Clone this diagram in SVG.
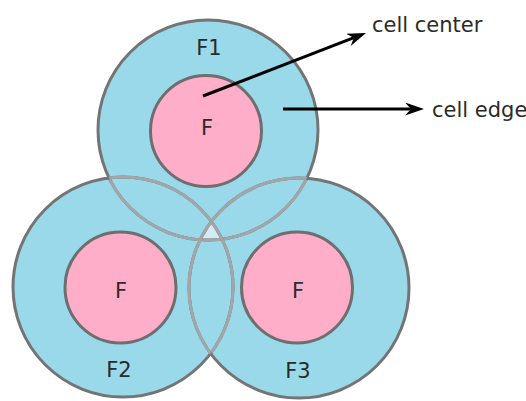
<svg xmlns="http://www.w3.org/2000/svg" width="526" height="401" viewBox="0 0 526 401">
  <style>
    .cell { fill: #99D9EA; stroke: none; }
    .outline { fill: none; stroke: #747474; stroke-width: 3; }
    .inner-arc { fill: none; stroke: #a3a6a8; stroke-width: 3; }
    .center { fill: #FFAEC9; stroke: #6e6e6e; stroke-width: 3; }
    .lbl { font-family: "DejaVu Sans", Verdana, sans-serif; font-size: 21px; fill: #2a2a2a; }
    .mid { text-anchor: middle; }
    .arrow { fill: none; stroke: #000; stroke-width: 3; }
  </style>
  <defs>
    <marker id="head" markerUnits="userSpaceOnUse" markerWidth="22" markerHeight="14" refX="6" refY="6.5" orient="auto">
      <path d="M0,0 L19,6.5 L0,13 L6,6.5 z" fill="#000"/>
    </marker>
    <clipPath id="notTop">
      <circle cx="123" cy="287" r="110"/>
      <circle cx="299" cy="288" r="110"/>
    </clipPath>
    <clipPath id="notLeft">
      <circle cx="208" cy="130" r="110"/>
      <circle cx="299" cy="288" r="110"/>
    </clipPath>
    <clipPath id="notRight">
      <circle cx="208" cy="130" r="110"/>
      <circle cx="123" cy="287" r="110"/>
    </clipPath>
    <clipPath id="inLeft"><circle cx="123" cy="287" r="110"/></clipPath>
    <clipPath id="inRight"><circle cx="299" cy="288" r="110"/></clipPath>
  </defs>

  <g id="cell-fills">
    <circle class="cell" cx="208" cy="130" r="110"/>
    <circle class="cell" cx="123" cy="287" r="110"/>
    <circle class="cell" cx="299" cy="288" r="110"/>
    <g clip-path="url(#inRight)">
      <circle cx="208" cy="130" r="110" fill="#d2ecf1" clip-path="url(#inLeft)"/>
    </g>
  </g>

  <g id="cell-F1">
    <circle class="outline" cx="208" cy="130" r="110"/>
    <circle class="inner-arc" cx="208" cy="130" r="110" clip-path="url(#notTop)"/>
    <circle class="center" cx="206" cy="131" r="55.5"/>
    <text class="lbl mid" x="209" y="55">F1</text>
    <text class="lbl mid" x="207" y="135">F</text>
  </g>

  <g id="cell-F2">
    <circle class="outline" cx="123" cy="287" r="110"/>
    <circle class="inner-arc" cx="123" cy="287" r="110" clip-path="url(#notLeft)"/>
    <circle class="center" cx="120.5" cy="287.5" r="55.5"/>
    <text class="lbl mid" x="119" y="377">F2</text>
    <text class="lbl mid" x="121" y="298">F</text>
  </g>

  <g id="cell-F3">
    <circle class="outline" cx="299" cy="288" r="110"/>
    <circle class="inner-arc" cx="299" cy="288" r="110" clip-path="url(#notRight)"/>
    <circle class="center" cx="297" cy="287.5" r="55.5"/>
    <text class="lbl mid" x="298" y="378">F3</text>
    <text class="lbl mid" x="298" y="298">F</text>
  </g>

  <g id="connectors">
    <line class="arrow" x1="203" y1="96" x2="353.9" y2="37.7" marker-end="url(#head)"/>
    <line class="arrow" x1="283" y1="109" x2="411" y2="109" marker-end="url(#head)"/>
  </g>

  <g id="label-cell-center">
    <text class="lbl" x="372" y="32">cell center</text>
  </g>
  <g id="label-cell-edge">
    <text class="lbl" x="432" y="117">cell edge</text>
  </g>
</svg>
